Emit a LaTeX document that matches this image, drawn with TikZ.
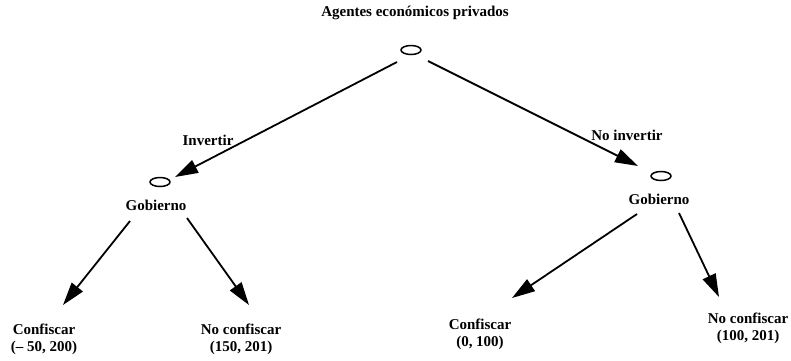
\documentclass[tikz,border=0pt]{standalone}
\usepackage{fontspec}
\setmainfont{Liberation Serif}
\usetikzlibrary{arrows.meta,shapes.geometric}

\begin{document}
\begin{tikzpicture}[
    x=1pt, y=-1pt,
    font=\fontsize{15}{17}\selectfont\bfseries,
    choice/.style={%
      draw,
      ellipse,
      line width=1.5pt,
      minimum width=20pt,
      minimum height=9pt,
      inner sep=0pt,
    },
    txt/.style={%
      inner sep=0pt,
      align=center,
    },
    arr/.style={%
      line width=1.8pt,
      -{Triangle[length=23pt,width=14pt]},
    },
  ]
    \useasboundingbox (0,0) rectangle (791,360);
    \node [choice] (root) at (411,50) {};
    \path (root) ++(4,-37) node [txt] (agentes) {Agentes económicos privados};
    \path (root) ++(-251,132) node [choice] (gobL) {};
    \path (root) ++(250,126) node [choice] (gobR) {};
    \path (root) ++(-203,90) node [txt] (invertir) {Invertir};
    \path (root) ++(216,85) node [txt] (noinvertir) {No invertir};
    \path (gobL) ++(-4,23) node [txt] (gobLtxt) {Gobierno};
    \path (gobR) ++(-2,23) node [txt] (gobRtxt) {Gobierno};
    \path (gobLtxt) ++(-112,134.5) node [txt] (confL) {Confiscar\\(– 50, 200)};
    \path (gobLtxt) ++(85,134.5) node [txt] (noconfL) {No confiscar\\(150, 201)};
    \path (gobRtxt) ++(-179,135.5) node [txt] (confR) {Confiscar\\(0, 100)};
    \path (gobRtxt) ++(89,129) node [txt] (noconfR) {No confiscar\\(100, 201)};
    \draw [arr] ([shift={(-14,12)}]root.center) -- ([shift={(15,-5)}]gobL.center);
    \draw [arr] ([shift={(17,11)}]root.center) -- ([shift={(-23,-10)}]gobR.center);
    \draw [arr] ([shift={(-26,16)}]gobLtxt.center) -- ([shift={(19,-34.5)}]confL.center);
    \draw [arr] ([shift={(31,13)}]gobLtxt.center) -- ([shift={(8,-34.5)}]noconfL.center);
    \draw [arr] ([shift={(-22,15)}]gobRtxt.center) -- ([shift={(32,-36.5)}]confR.center);
    \draw [arr] ([shift={(20,14)}]gobRtxt.center) -- ([shift={(-29,-31)}]noconfR.center);
\end{tikzpicture}
\end{document}
